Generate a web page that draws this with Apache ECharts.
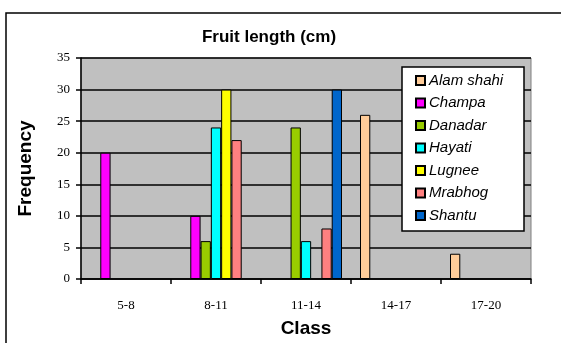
<!DOCTYPE html>
<html>
<head>
<meta charset="UTF-8">
<script src="https://cdn.jsdelivr.net/npm/echarts@6/dist/echarts.min.js"></script>
<style>
  html, body { margin: 0; padding: 0; background: #fff; }
  #main { width: 561px; height: 343px; }
</style>
</head>
<body>
<div id="main"></div>
<script>
// categories (fruit length classes)
var classes = ['5-8', '8-11', '11-14', '14-17', '17-20'];
// frequency per variety
var alamShahi = [null, null, null, 26, 4];
var champa    = [20, 10, null, null, null];
var danadar   = [null, 6, 24, null, null];
var hayati    = [null, 24, 6, null, null];
var lugnee    = [null, 30, null, null, null];
var mrabhog   = [null, 22, 8, null, null];
var shantu    = [null, null, 30, null, null];

var names  = ['Alam shahi', 'Champa', 'Danadar', 'Hayati', 'Lugnee', 'Mrabhog', 'Shantu'];
var values = [alamShahi, champa, danadar, hayati, lugnee, mrabhog, shantu];
var colors = ['#FFCC99', '#FF00FF', '#99CC00', '#00FFFF', '#FFFF00', '#FF8080', '#0066CC'];

var chart = echarts.init(document.getElementById('main'));

var series = names.map(function (n, i) {
    return {
        name: n,
        type: 'bar',
        data: values[i],
        barGap: '0%',
        barCategoryGap: '20%',
        itemStyle: { color: colors[i], borderColor: '#000', borderWidth: 1 }
    };
});

chart.setOption({
    animation: false,
    textStyle: { fontFamily: 'Liberation Sans' },
    title: {
        text: 'Fruit length (cm)',
        left: 264, top: 24, textAlign: 'center',
        textStyle: { fontSize: 17, fontWeight: 'bold', color: '#000', fontFamily: 'Liberation Sans' }
    },
    graphic: [
        { type: 'rect', shape: { x: 6, y: 13, width: 600, height: 400 },
          style: { fill: null, stroke: '#000', lineWidth: 1.5 }, z: -10 },
        { type: 'rect', shape: { x: 402, y: 67, width: 122, height: 164 },
          style: { fill: '#fff', stroke: '#000', lineWidth: 1.5 }, z: 5 }
    ],
    legend: {
        orient: 'vertical',
        left: 403, top: 68,
        padding: [5, 4, 4, 12],
        itemWidth: 9, itemHeight: 9,
        itemGap: 7.5,
        icon: 'rect',
        z: 10,
        textStyle: { fontSize: 15, fontStyle: 'italic', color: '#000', padding: [0, 0, 0, -1] },
        data: names
    },
    grid: {
        left: 81, top: 58, width: 450, height: 221,
        show: true, backgroundColor: '#C0C0C0', borderColor: '#808080', borderWidth: 1,
        containLabel: false
    },
    xAxis: {
        type: 'category',
        data: classes,
        name: 'Class',
        nameLocation: 'middle',
        nameGap: 40,
        nameTextStyle: { fontSize: 19, fontWeight: 'bold', color: '#000' },
        axisLine: { lineStyle: { color: '#000', width: 1.5 } },
        axisTick: { show: true, length: 5, lineStyle: { color: '#000', width: 1.5 } },
        axisLabel: { margin: 20, fontSize: 13, color: '#000', fontFamily: 'Liberation Serif' }
    },
    yAxis: {
        type: 'value',
        min: 0, max: 35, interval: 5,
        name: 'Frequency',
        nameLocation: 'middle',
        nameGap: 46,
        nameTextStyle: { fontSize: 19, fontWeight: 'bold', color: '#000' },
        axisLine: { show: true, lineStyle: { color: '#000', width: 1.5 } },
        axisTick: { show: true, length: 5, lineStyle: { color: '#000', width: 1.5 } },
        axisLabel: { margin: 11, fontSize: 13, color: '#000', fontFamily: 'Liberation Serif' },
        splitLine: { lineStyle: { color: '#000', width: 1.5 } }
    },
    series: series
});
</script>
</body>
</html>
